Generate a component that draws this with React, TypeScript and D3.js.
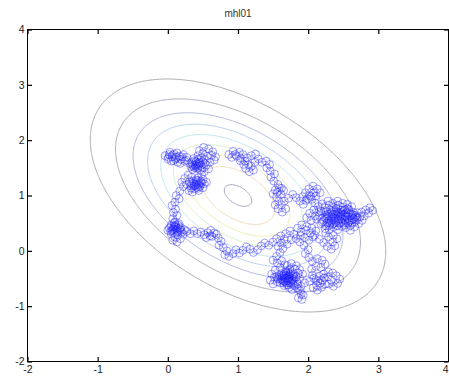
import React, { useRef, useEffect } from 'react';
import * as d3 from 'd3';

const title = 'mhl01';
const xTicks = [-2, -1, 0, 1, 2, 3, 4];
const yTicks = [-2, -1, 0, 1, 2, 3, 4];

// target gaussian drawn as contours
const mean = [1.0, 1.0];
const cov = [
  [1.0, -0.48],
  [-0.48, 1.0],
];
const contourLevels = [0.109, 0.218, 0.327, 0.436, 0.545, 0.654, 0.763, 0.872, 0.981];
const contourColors = [
  '#acacb0',
  '#acaebb',
  '#b2b8de',
  '#b8d0f0',
  '#c0e8f0',
  '#d6f0ce',
  '#eef0b6',
  '#f2dcbe',
  '#aea8c4',
];

// metropolis-hastings chain
const samples: [number, number][] = [
  [0.02, 1.74], [0.06, 1.7], [0.0, 1.66], [-0.04, 1.72], [0.03, 1.78], [0.09, 1.75], [0.12, 1.69], [0.08, 1.63],
  [0.14, 1.6], [0.19, 1.65], [0.16, 1.71], [0.22, 1.74], [0.27, 1.69], [0.24, 1.62], [0.18, 1.58], [0.11, 1.66],
  [0.05, 1.62], [0.01, 1.69], [0.07, 1.73], [0.13, 1.77], [0.2, 1.7], [0.26, 1.64],
  [0.31, 1.58], [0.36, 1.53], [0.41, 1.57], [0.38, 1.63], [0.44, 1.66], [0.5, 1.61], [0.47, 1.54], [0.42, 1.49],
  [0.35, 1.47], [0.39, 1.55], [0.45, 1.6], [0.52, 1.65], [0.56, 1.71], [0.5, 1.76], [0.45, 1.81], [0.51, 1.87],
  [0.58, 1.84], [0.64, 1.79], [0.62, 1.73], [0.68, 1.7], [0.66, 1.64], [0.6, 1.6], [0.55, 1.55], [0.58, 1.48],
  [0.52, 1.43], [0.46, 1.46], [0.4, 1.52], [0.34, 1.6], [0.37, 1.67], [0.43, 1.72], [0.48, 1.68], [0.53, 1.58],
  [0.46, 1.58], [0.4, 1.61], [0.35, 1.56], [0.43, 1.53], [0.49, 1.5], [0.44, 1.56], [0.38, 1.5], [0.33, 1.52],
  [0.48, 1.38], [0.43, 1.32], [0.47, 1.26], [0.52, 1.21], [0.46, 1.16], [0.4, 1.2], [0.36, 1.26], [0.42, 1.27],
  [0.5, 1.29], [0.55, 1.24], [0.5, 1.14], [0.44, 1.09], [0.38, 1.12], [0.33, 1.17], [0.3, 1.09], [0.35, 1.06],
  [0.41, 1.15], [0.37, 1.22], [0.31, 1.25], [0.27, 1.2], [0.33, 1.13], [0.39, 1.18], [0.45, 1.22], [0.4, 1.28],
  [0.44, 1.19], [0.48, 1.23], [0.43, 1.13], [0.37, 1.17], [0.34, 1.22], [0.4, 1.24],
  [0.34, 1.33], [0.29, 1.37], [0.24, 1.31],
  [0.2, 1.24], [0.22, 1.16], [0.17, 1.08], [0.12, 1.0], [0.16, 0.94], [0.1, 0.88], [0.06, 0.82], [0.11, 0.75],
  [0.08, 0.69], [0.13, 0.64], [0.07, 0.58], [0.1, 0.52],
  [0.05, 0.47], [0.1, 0.43], [0.15, 0.46], [0.12, 0.39], [0.06, 0.36], [0.02, 0.41], [0.08, 0.33], [0.14, 0.35],
  [0.18, 0.42], [0.16, 0.49], [0.09, 0.5], [0.04, 0.44], [0.0, 0.37], [0.05, 0.3], [0.1, 0.25], [0.07, 0.19],
  [0.13, 0.16], [0.18, 0.22], [0.14, 0.29], [0.2, 0.33], [0.24, 0.38], [0.19, 0.37], [0.12, 0.42], [0.07, 0.4],
  [0.11, 0.46], [0.17, 0.39], [0.13, 0.33], [0.08, 0.38], [0.04, 0.35], [0.09, 0.45], [0.15, 0.41],
  [0.22, 0.3], [0.27, 0.35],
  [0.32, 0.31], [0.37, 0.36], [0.42, 0.31], [0.47, 0.34], [0.52, 0.29], [0.57, 0.33], [0.6, 0.27], [0.55, 0.24],
  [0.61, 0.37], [0.66, 0.32], [0.63, 0.26], [0.69, 0.3], [0.72, 0.23], [0.76, 0.17], [0.73, 0.1], [0.79, 0.06],
  [0.84, 0.0], [0.81, -0.07], [0.87, -0.1], [0.93, -0.05], [0.97, 0.02], [1.02, -0.04], [1.07, 0.01], [1.12, 0.07],
  [1.17, 0.03], [1.22, -0.03], [1.28, 0.02], [1.33, 0.09], [1.38, 0.14], [1.44, 0.1], [1.5, 0.16], [1.55, 0.22],
  [1.61, 0.27], [1.66, 0.21], [1.62, 0.14], [1.57, 0.08],
  [1.68, 0.31], [1.74, 0.36], [1.8, 0.3], [1.76, 0.2], [1.7, 0.12], [1.64, 0.04], [1.6, -0.03], [1.55, -0.1],
  [1.5, -0.17], [1.56, -0.22], [1.62, -0.18], [1.67, -0.25], [1.6, -0.3], [1.53, -0.35], [1.48, -0.42], [1.55, -0.46],
  [1.62, -0.41], [1.68, -0.37], [1.74, -0.42], [1.7, -0.49], [1.64, -0.53], [1.69, -0.58], [1.76, -0.55], [1.8, -0.48],
  [1.75, -0.39], [1.81, -0.33], [1.86, -0.4], [1.83, -0.47], [1.77, -0.5], [1.72, -0.44], [1.66, -0.47], [1.71, -0.54],
  [1.78, -0.6], [1.73, -0.66], [1.66, -0.63], [1.6, -0.58], [1.57, -0.51], [1.63, -0.45], [1.69, -0.4], [1.74, -0.33],
  [1.68, -0.45], [1.73, -0.51], [1.79, -0.45], [1.75, -0.58], [1.7, -0.62], [1.64, -0.58], [1.61, -0.52], [1.67, -0.5],
  [1.73, -0.47], [1.78, -0.42], [1.71, -0.38], [1.65, -0.44], [1.59, -0.48], [1.65, -0.55], [1.72, -0.57], [1.77, -0.53],
  [1.7, -0.27], [1.76, -0.23], [1.83, -0.27], [1.88, -0.34], [1.92, -0.42], [1.88, -0.5], [1.84, -0.56], [1.81, -0.63],
  [1.86, -0.7], [1.9, -0.78], [1.86, -0.85], [1.91, -0.88], [1.93, -0.8], [1.89, -0.72], [1.84, -0.67], [1.77, -0.7],
  [1.72, -0.62], [1.67, -0.55], [1.62, -0.5], [1.56, -0.56], [1.5, -0.6], [1.46, -0.53], [1.52, -0.48], [1.59, -0.44],
  [1.66, -0.42], [1.72, -0.48], [1.79, -0.52], [1.85, -0.6], [1.9, -0.64], [1.95, -0.58],
  [2.02, -0.55], [2.08, -0.5], [2.14, -0.55], [2.12, -0.62], [2.07, -0.67], [2.13, -0.71], [2.19, -0.66], [2.24, -0.6],
  [2.2, -0.53], [2.16, -0.46], [2.22, -0.42], [2.28, -0.47], [2.33, -0.53], [2.3, -0.6], [2.36, -0.64], [2.42, -0.59],
  [2.45, -0.51], [2.4, -0.45], [2.35, -0.4], [2.29, -0.38], [2.23, -0.49], [2.17, -0.58], [2.11, -0.52], [2.06, -0.44],
  [2.05, -0.33], [2.11, -0.28], [2.18, -0.3], [2.24, -0.24], [2.2, -0.17], [2.13, -0.14], [2.06, -0.19], [2.01, -0.12],
  [1.96, -0.05], [2.0, 0.02],
  [1.94, 0.1], [1.88, 0.16], [1.83, 0.22], [1.89, 0.27], [1.95, 0.24], [2.01, 0.19], [2.07, 0.25], [2.03, 0.32],
  [1.97, 0.37], [1.9, 0.34], [1.85, 0.41], [1.91, 0.47], [1.98, 0.44], [2.05, 0.41], [2.11, 0.36], [2.09, 0.28],
  [2.16, 0.21], [2.22, 0.15], [2.27, 0.08], [2.33, 0.03], [2.38, 0.09], [2.35, 0.16], [2.41, 0.22], [2.36, 0.28],
  [2.29, 0.25], [2.25, 0.32],
  [2.3, 0.38], [2.36, 0.43], [2.42, 0.38], [2.48, 0.44], [2.44, 0.5], [2.38, 0.55], [2.31, 0.5], [2.25, 0.45],
  [2.2, 0.52], [2.26, 0.58], [2.33, 0.62], [2.4, 0.66], [2.46, 0.61], [2.52, 0.56], [2.57, 0.5], [2.54, 0.42],
  [2.6, 0.37], [2.66, 0.43], [2.63, 0.51], [2.69, 0.56], [2.74, 0.62], [2.7, 0.69], [2.64, 0.65], [2.58, 0.69],
  [2.52, 0.74], [2.46, 0.7], [2.4, 0.76], [2.34, 0.71], [2.28, 0.66], [2.22, 0.7], [2.16, 0.64], [2.12, 0.57],
  [2.18, 0.49], [2.24, 0.4], [2.3, 0.46], [2.37, 0.5], [2.43, 0.55], [2.5, 0.5], [2.56, 0.58], [2.62, 0.6],
  [2.68, 0.64], [2.76, 0.7], [2.82, 0.74], [2.88, 0.78], [2.92, 0.73], [2.86, 0.68], [2.8, 0.63], [2.77, 0.55],
  [2.72, 0.49], [2.66, 0.52], [2.6, 0.46], [2.54, 0.51], [2.48, 0.58], [2.42, 0.63], [2.36, 0.6], [2.3, 0.55],
  [2.35, 0.48], [2.41, 0.45], [2.47, 0.52], [2.52, 0.47], [2.58, 0.53], [2.55, 0.62], [2.49, 0.64], [2.44, 0.58],
  [2.39, 0.52], [2.33, 0.57], [2.29, 0.63], [2.36, 0.66], [2.43, 0.68], [2.5, 0.71], [2.57, 0.66], [2.62, 0.56],
  [2.67, 0.61], [2.62, 0.66], [2.54, 0.69], [2.47, 0.74], [2.39, 0.71], [2.32, 0.74], [2.26, 0.71],
  [2.24, 0.6], [2.18, 0.72], [2.24, 0.78], [2.3, 0.82], [2.36, 0.78], [2.43, 0.82], [2.5, 0.79], [2.56, 0.84],
  [2.62, 0.8], [2.58, 0.74], [2.52, 0.66], [2.46, 0.63], [2.39, 0.58], [2.33, 0.53], [2.27, 0.5], [2.22, 0.55],
  [2.27, 0.62], [2.34, 0.67], [2.41, 0.71], [2.47, 0.67], [2.53, 0.62], [2.59, 0.56], [2.65, 0.58], [2.7, 0.6],
  [2.64, 0.7], [2.56, 0.76], [2.49, 0.86], [2.42, 0.9], [2.35, 0.86], [2.28, 0.9], [2.2, 0.85], [2.14, 0.8],
  [2.08, 0.74], [2.02, 0.68], [1.98, 0.6], [2.04, 0.55], [2.1, 0.63], [2.15, 0.7],
  [2.1, 0.86], [2.05, 0.93], [2.11, 0.99], [2.17, 1.05], [2.13, 1.12], [2.07, 1.17], [2.01, 1.12], [1.96, 1.05],
  [2.02, 1.0], [2.08, 1.05], [2.04, 0.98], [1.99, 0.94],
  [1.92, 0.98], [1.97, 0.91], [1.93, 0.84], [1.88, 0.9], [1.83, 0.96], [1.78, 1.02],
  [1.72, 0.95], [1.66, 0.9], [1.62, 0.83], [1.68, 0.76], [1.63, 0.7], [1.57, 0.76], [1.53, 0.83], [1.58, 0.9],
  [1.55, 0.97], [1.61, 1.02], [1.65, 1.09], [1.59, 1.14], [1.53, 1.1], [1.5, 1.03], [1.56, 1.06], [1.62, 1.13],
  [1.57, 1.2], [1.51, 1.26], [1.47, 1.33], [1.52, 1.39], [1.46, 1.44], [1.41, 1.5], [1.45, 1.56], [1.4, 1.62],
  [1.34, 1.6],
  [1.29, 1.66], [1.24, 1.6], [1.19, 1.53], [1.22, 1.46], [1.16, 1.43], [1.11, 1.49], [1.15, 1.56], [1.1, 1.62],
  [1.04, 1.67], [1.07, 1.74], [1.02, 1.78], [0.96, 1.74], [0.91, 1.69], [0.87, 1.74], [0.93, 1.8], [0.98, 1.71],
  [1.03, 1.63], [1.08, 1.56], [1.13, 1.68], [1.19, 1.72], [1.25, 1.75],
];

const W = 449;
const H = 380;

const Chart: React.FC = () => {
  const ref = useRef<SVGSVGElement | null>(null);

  useEffect(() => {
    if (!ref.current) return;
    const svg = d3.select(ref.current);
    svg.selectAll('*').remove();

    const margin = { top: 29.5, right: 0.5, bottom: 18.5, left: 27.5 };
    const x = d3.scaleLinear().domain([-2, 4]).range([margin.left, W - margin.right]);
    const y = d3.scaleLinear().domain([-2, 4]).range([H - margin.bottom, margin.top]);

    // density grid for d3.contours
    const n = 301;
    const step = 6 / (n - 1);
    const det = cov[0][0] * cov[1][1] - cov[0][1] * cov[1][0];
    const inv = [
      [cov[1][1] / det, -cov[0][1] / det],
      [-cov[1][0] / det, cov[0][0] / det],
    ];
    const values = new Float64Array(n * n);
    for (let j = 0; j < n; j++) {
      for (let i = 0; i < n; i++) {
        const dx = -2 + i * step - mean[0];
        const dy = -2 + j * step - mean[1];
        const q = dx * (inv[0][0] * dx + inv[0][1] * dy) + dy * (inv[1][0] * dx + inv[1][1] * dy);
        values[i + j * n] = Math.exp(-0.5 * q);
      }
    }
    const contours = d3.contours().size([n, n]).thresholds(contourLevels)(Array.from(values));
    const proj = d3.geoTransform({
      point(px: number, py: number) {
        this.stream.point(x(-2 + (px - 0.5) * step), y(-2 + (py - 0.5) * step));
      },
    });
    const geo = d3.geoPath(proj);

    svg
      .append('g')
      .selectAll('path')
      .data(contours)
      .join('path')
      .attr('d', (d) => geo(d as any))
      .attr('fill', 'none')
      .attr('stroke', (_d, i) => contourColors[i])
      .attr('stroke-width', 1);

    // chain: line + circle markers
    const line = d3
      .line<[number, number]>()
      .x((d) => x(d[0]))
      .y((d) => y(d[1]));
    svg
      .append('path')
      .datum(samples)
      .attr('d', line)
      .attr('fill', 'none')
      .attr('stroke', '#2020ff')
      .attr('stroke-opacity', 0.55)
      .attr('stroke-width', 0.6);
    svg
      .append('g')
      .selectAll('circle')
      .data(samples)
      .join('circle')
      .attr('cx', (d) => x(d[0]))
      .attr('cy', (d) => y(d[1]))
      .attr('r', 3.9)
      .attr('fill', 'none')
      .attr('stroke', '#1a1aff')
      .attr('stroke-opacity', 0.7)
      .attr('stroke-width', 0.6);

    // box + inward ticks on all four sides
    const font = 'Liberation Sans, Arial, sans-serif';
    svg
      .append('rect')
      .attr('x', x(-2))
      .attr('y', y(4))
      .attr('width', x(4) - x(-2))
      .attr('height', y(-2) - y(4))
      .attr('fill', 'none')
      .attr('stroke', '#000')
      .attr('stroke-width', 1);

    const axes = [
      { a: d3.axisBottom(x), t: `translate(0,${y(-2)})`, labels: true },
      { a: d3.axisTop(x), t: `translate(0,${y(4)})`, labels: false },
      { a: d3.axisLeft(y), t: `translate(${x(-2)},0)`, labels: true },
      { a: d3.axisRight(y), t: `translate(${x(4)},0)`, labels: false },
    ];
    axes.forEach(({ a, t, labels }, k) => {
      const g = svg
        .append('g')
        .attr('transform', t)
        .call(
          a
            .tickValues(k < 2 ? xTicks : yTicks)
            .tickSizeInner(-4.5)
            .tickSizeOuter(0)
            .tickPadding(k === 0 ? 4 : 3)
            .tickFormat((d) => (labels ? String(d) : '')) as any
        );
      g.select('.domain').remove();
      g.selectAll('line').attr('stroke', '#000').attr('stroke-width', 1.2);
      g.selectAll('text').attr('font-family', font).attr('font-size', 10.5).attr('fill', '#222');
      if (k === 0) {
        // keep the last label inside the picture
        g.selectAll<SVGTextElement, number>('text')
          .filter((d) => d === xTicks[xTicks.length - 1])
          .attr('text-anchor', 'end')
          .attr('dx', -0.5);
      }
    });

    svg
      .append('text')
      .attr('x', (x(-2) + x(4)) / 2)
      .attr('y', 17)
      .attr('text-anchor', 'middle')
      .attr('font-family', font)
      .attr('font-size', 10)
      .attr('fill', '#333')
      .text(title);
  }, []);

  return (
    <svg
      ref={ref}
      width={W}
      height={H}
      style={{ position: 'absolute', left: 0, top: 0, display: 'block', background: '#fff' }}
    />
  );
};

export default function App() {
  return <Chart />;
}
